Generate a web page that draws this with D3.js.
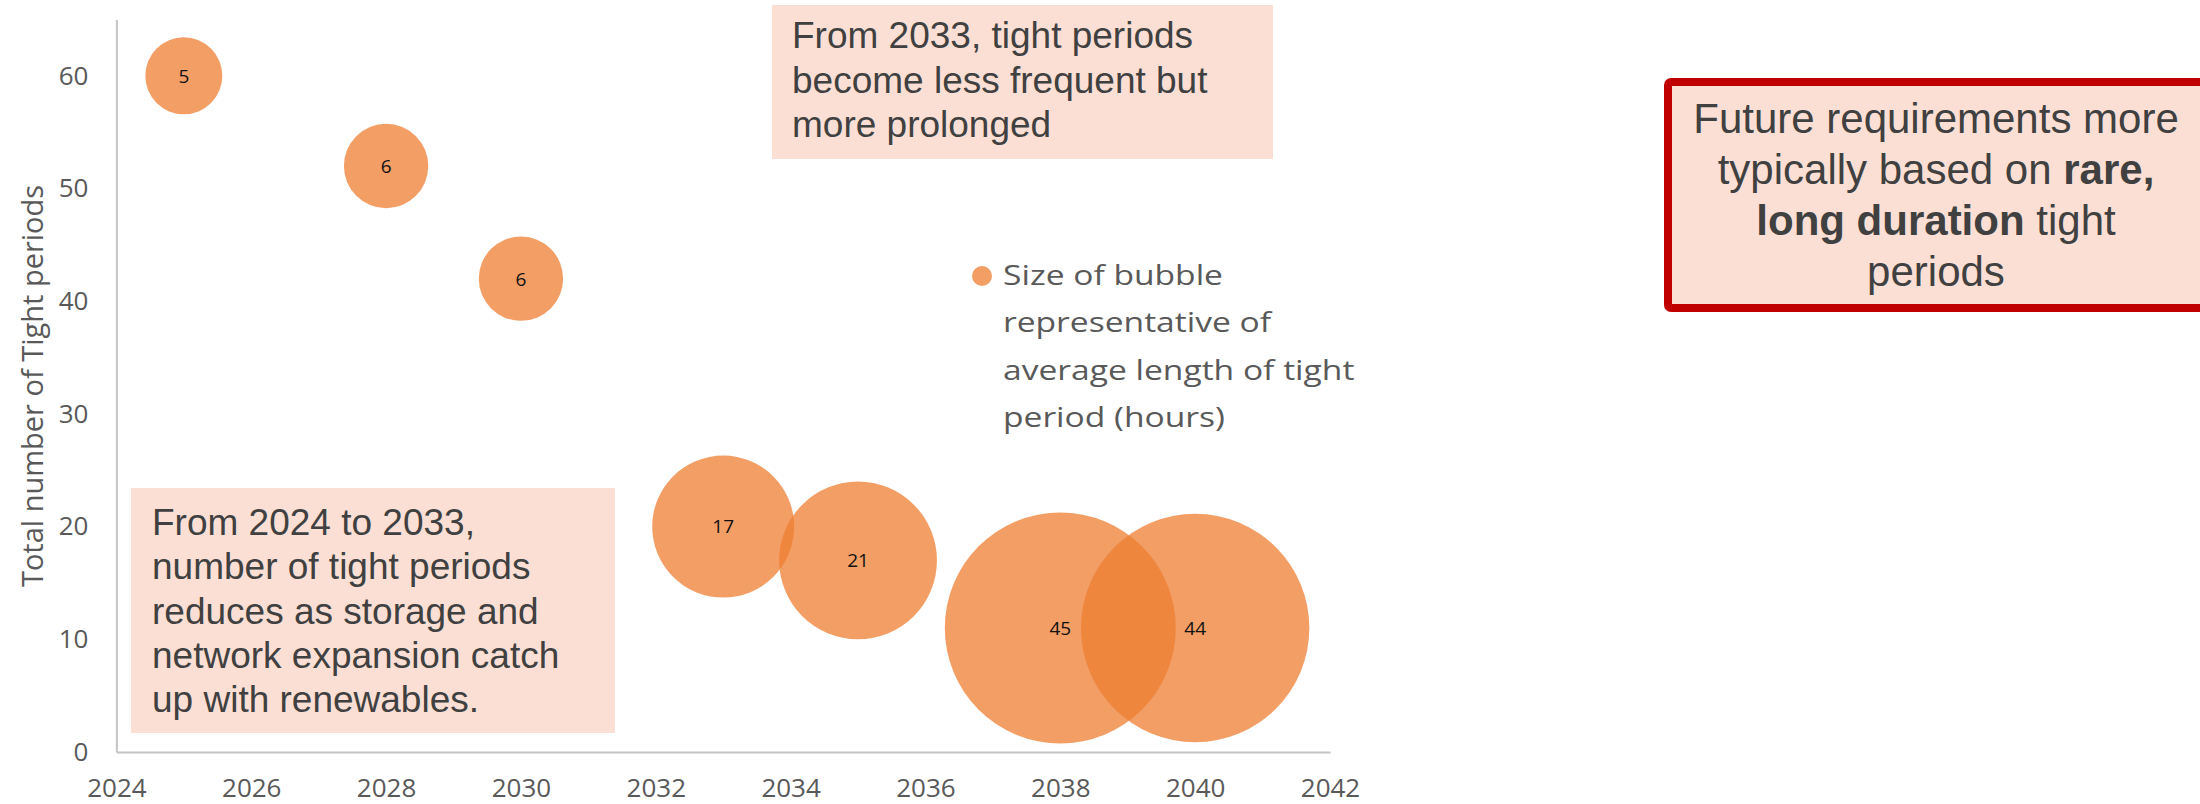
<!DOCTYPE html>
<html>
<head>
<meta charset="utf-8">
<script src="https://cdn.jsdelivr.net/npm/d3@7"></script>
<style>
  body { margin: 0; background: #fff; }
  svg { display: block; }
</style>
</head>
<body>
<svg id="chart" width="2200" height="804"></svg>
<script>
// data
const years = [2025, 2028, 2030, 2033, 2035, 2038, 2040]
const tightPeriods = [60, 52, 42, 20, 17, 11, 11]
const avgLength = [5, 6, 6, 17, 21, 45, 44]

const xTicks = [2024, 2026, 2028, 2030, 2032, 2034, 2036, 2038, 2040, 2042]
const yTicks = [0, 10, 20, 30, 40, 50, 60]

const yTitle = "Total number of Tight periods"
const legendLines = ["Size of bubble", "representative of", "average length of tight", "period (hours)"]
const noteLeft = ["From 2024 to 2033,", "number of tight periods", "reduces as storage and", "network expansion catch", "up with renewables."]
const noteTop = ["From 2033, tight periods", "become less frequent but", "more prolonged"]
// each line is a list of [text, bold]
const noteRight = [
    [["Future requirements more", false]],
    [["typically based on ", false], ["rare,", true]],
    [["long duration", true], [" tight", false]],
    [["periods", false]]
]

const bubbleColour = "#ED7D31"
const noteFill = "#FBDFD4"
const greyText = "#595959"
const darkText = "#404040"

const data = years.map((y, i) => ({year: y, count: tightPeriods[i], len: avgLength[i]}))

const svg = d3.select("#chart")

const x = d3.scaleLinear().domain([2024, 2042]).range([116.4, 1330])
const y = d3.scaleLinear().domain([0, 65]).range([752, 19.5])
const r = d3.scaleSqrt().domain([0, 45]).range([0, 115.5])

// axes
const xAxis = svg.append("g")
    .attr("transform", `translate(0,${y(0)})`)
    .call(d3.axisBottom(x).tickValues(xTicks).tickFormat(d3.format("d")).tickSize(0).tickPadding(27))
const yAxis = svg.append("g")
    .attr("transform", `translate(${x(2024)},0)`)
    .call(d3.axisLeft(y).tickValues(yTicks).tickSize(0).tickPadding(28))

;[xAxis, yAxis].forEach(a => {
    a.select(".domain").attr("stroke", "#C4C4C4").attr("stroke-width", 2)
    a.selectAll("text")
        .attr("fill", greyText)
        .style("font-family", "'Open Sans'")
        .style("font-size", "26px")
})

svg.append("text")
    .attr("transform", "translate(43,386) rotate(-90)")
    .attr("text-anchor", "middle")
    .attr("fill", greyText)
    .style("font-family", "'Open Sans'")
    .style("font-size", "29px")
    .text(yTitle)

// bubbles
svg.append("g").selectAll("circle")
    .data(data)
    .join("circle")
    .attr("cx", d => x(d.year))
    .attr("cy", d => y(d.count))
    .attr("r", d => r(d.len))
    .attr("fill", bubbleColour)
    .attr("fill-opacity", 0.75)

svg.append("g").selectAll("text")
    .data(data)
    .join("text")
    .attr("x", d => x(d.year))
    .attr("y", d => y(d.count))
    .attr("dy", "0.36em")
    .attr("text-anchor", "middle")
    .attr("fill", "#111")
    .style("font-family", "'Open Sans'")
    .style("font-size", "19px")
    .text(d => d.len)

// legend
const legend = svg.append("g")
legend.append("circle")
    .attr("cx", 982).attr("cy", 276).attr("r", 10)
    .attr("fill", bubbleColour).attr("fill-opacity", 0.75)
legend.selectAll("text")
    .data(legendLines)
    .join("text")
    .attr("transform", (d, i) => `translate(1003,${285 + i * 47.4}) scale(1.2,1)`)
    .attr("fill", greyText)
    .style("font-family", "'Open Sans'")
    .style("font-size", "28px")
    .text(d => d)

// annotation boxes
function noteBox(bx, by, bw, bh, lines, tx, ty, step) {
    const g = svg.append("g")
    g.append("rect")
        .attr("x", bx).attr("y", by).attr("width", bw).attr("height", bh)
        .attr("fill", noteFill)
    g.selectAll("text")
        .data(lines)
        .join("text")
        .attr("x", tx)
        .attr("y", (d, i) => ty + i * step)
        .attr("fill", darkText)
        .style("font-family", "'Liberation Sans', Arial")
        .style("font-size", "37px")
        .text(d => d)
}
noteBox(131, 488, 484, 245, noteLeft, 152, 535, 44.3)
noteBox(772, 5, 501, 154, noteTop, 792, 48, 44.5)

const right = svg.append("g")
right.append("rect")
    .attr("x", 1668).attr("y", 82).attr("width", 540).attr("height", 226)
    .attr("rx", 3)
    .attr("fill", noteFill)
    .attr("stroke", "#C00000")
    .attr("stroke-width", 8)
right.selectAll("text")
    .data(noteRight)
    .join("text")
    .attr("x", 1936)
    .attr("y", (d, i) => 133 + i * 51)
    .attr("text-anchor", "middle")
    .attr("fill", darkText)
    .style("font-family", "'Liberation Sans', Arial")
    .style("font-size", "42px")
    .selectAll("tspan")
    .data(d => d)
    .join("tspan")
    .attr("font-weight", d => d[1] ? "bold" : "normal")
    .text(d => d[0])
</script>
</body>
</html>
